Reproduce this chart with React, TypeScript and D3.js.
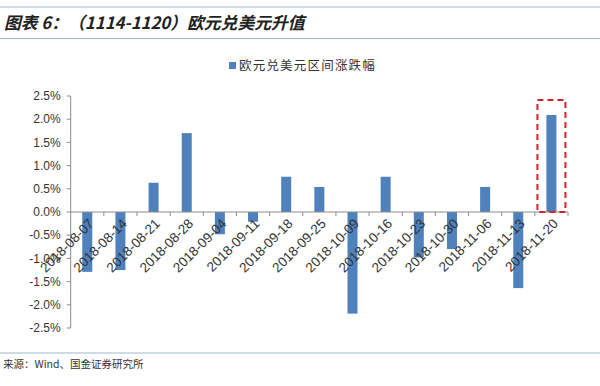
import React from "react";
import * as d3 from "d3";

const categories = [
  "2018-08-07", "2018-08-14", "2018-08-21", "2018-08-28", "2018-09-04",
  "2018-09-11", "2018-09-18", "2018-09-25", "2018-10-09", "2018-10-16",
  "2018-10-23", "2018-10-30", "2018-11-06", "2018-11-13", "2018-11-20",
];
const values = [
  -1.29, -1.25, 0.63, 1.7, -0.48, -0.21, 0.76, 0.54, -2.19, 0.76,
  -0.98, -0.8, 0.54, -1.64, 2.09,
];
const yTicks = [2.5, 2.0, 1.5, 1.0, 0.5, 0.0, -0.5, -1.0, -1.5, -2.0, -2.5];
const seriesName = "欧元兑美元区间涨跌幅";
const titleText = "图表 6：（1114-1120）欧元兑美元升值";
const sourceText = "来源：Wind、国金证券研究所";
const highlightCategory = "2018-11-20";

const W = 600;
const H = 386;
const left = 70.7;
const right = 568;
const top = 96;
const bottom = 328;

export default function App() {
  const x = d3.scaleBand<string>().domain(categories).range([left, right]).paddingInner(0).paddingOuter(0);
  const y = d3.scaleLinear().domain([-2.5, 2.5]).range([bottom, top]);
  const bw = 10;
  const barColor = "#4f81bd";
  const axisColor = "#8c8c8c";
  const lineColor = "#9dbccb";
  const y0 = y(0);
  const hx = (x(highlightCategory) ?? 0) + x.bandwidth() / 2;
  const hv = values[categories.indexOf(highlightCategory)];
  const font = "'Noto Sans CJK SC', 'Liberation Sans', sans-serif";
  const numFont = "'Liberation Sans', Arial, sans-serif";

  return (
    <svg width={W} height={H} style={{ position: "absolute", left: 0, top: 0, background: "#fff" }}>
      <line x1={0} x2={W} y1={7} y2={7} stroke={lineColor} strokeWidth={1.2} />
      <line x1={0} x2={W} y1={38.5} y2={38.5} stroke={lineColor} strokeWidth={1.2} />
      <text x={4} y={28.5} fontFamily={font} fontSize={16.8} fontWeight="bold" fontStyle="italic" fill="#222">
        {titleText}
      </text>

      {/* legend */}
      <rect x={229} y={62} width={7} height={7} fill={barColor} />
      <text x={239} y={70} fontFamily={font} fontSize={12.5} fill="#333" letterSpacing={1.2}>
        {seriesName}
      </text>

      {/* y axis */}
      <line x1={left} x2={left} y1={top} y2={bottom} stroke={axisColor} />
      {yTicks.map((t) => (
        <g key={t}>
          <line x1={left - 4} x2={left} y1={y(t)} y2={y(t)} stroke={axisColor} />
          <text x={left - 10} y={y(t)} dy="0.35em" textAnchor="end" fontFamily={numFont} fontSize={12} fill="#333">
            {t.toFixed(1) + "%"}
          </text>
        </g>
      ))}

      {/* bars */}
      {categories.map((c, i) => {
        const v = values[i];
        const cx = (x(c) ?? 0) + x.bandwidth() / 2;
        return (
          <rect
            key={c}
            x={cx - bw / 2}
            y={Math.min(y(v), y0)}
            width={bw}
            height={Math.abs(y(v) - y0)}
            fill={barColor}
          />
        );
      })}

      {/* x axis */}
      <line x1={left} x2={right} y1={y0} y2={y0} stroke={axisColor} />
      {categories.map((c) => (
        <line key={"t" + c} x1={(x(c) ?? 0) + x.bandwidth()} x2={(x(c) ?? 0) + x.bandwidth()} y1={y0} y2={y0 + 4} stroke={axisColor} />
      ))}
      {categories.map((c) => {
        const cx = (x(c) ?? 0) + x.bandwidth() / 2;
        return (
          <text
            key={"l" + c}
            transform={`translate(${cx + 4},${y0 + 9}) rotate(-45)`}
            textAnchor="end"
            dy="0.35em"
            fontFamily={numFont}
            fontSize={13.5}
            fill="#333"
          >
            {c}
          </text>
        );
      })}

      {/* highlight box */}
      <rect
        x={hx - 14}
        y={y(hv) - 15}
        width={28}
        height={y0 - (y(hv) - 15)}
        fill="none"
        stroke="#d0232e"
        strokeWidth={2}
        strokeDasharray="6,4"
      />

      <line x1={0} x2={W} y1={353} y2={353} stroke={lineColor} strokeWidth={1.2} />
      <text x={3} y={368} fontFamily={font} fontSize={10.5} fill="#333">
        {sourceText}
      </text>
    </svg>
  );
}
